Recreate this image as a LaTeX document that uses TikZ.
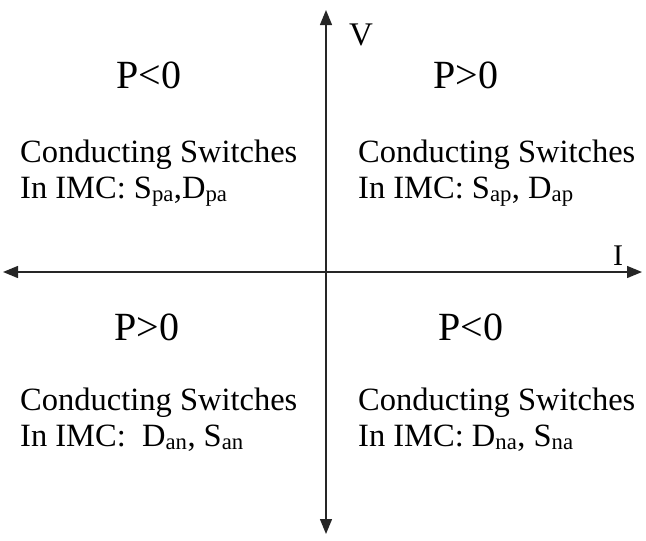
\documentclass[tikz,border=0pt]{standalone}
\usepackage{fontspec}
\setmainfont{Liberation Serif}
\usetikzlibrary{arrows.meta}
\tikzset{
  axis/.style={line width=1.3pt, draw=black!85,
    {Triangle[length=15pt,width=12pt]}-{Triangle[length=15pt,width=12pt]}},
  power/.style={inner sep=0pt, anchor=base, font=\fontsize{40}{44}\selectfont},
  axlabel/.style={inner sep=0pt, anchor=base west, font=\fontsize{33}{36}\selectfont},
  swtext/.style={inner sep=0pt, anchor=base west, font=\fontsize{32.5}{36}\selectfont}
}
\begin{document}
\begin{tikzpicture}[x=1pt,y=-1pt]
  \useasboundingbox (0,0) rectangle (646,541);
  % axes
  \coordinate (vtop) at (326,10);
  \coordinate (vbot) at (326,534);
  \coordinate (hleft) at (3,272);
  \coordinate (hright) at (642,272);
  \draw[axis] (vbot) -- (vtop);
  \draw[axis] (hleft) -- (hright);
  \node[axlabel] (vlab) at (349,45) {V};
  \node[axlabel, font=\fontsize{30}{32}\selectfont] (ilab) at (613,265) {I};
  % power sign of each quadrant
  \node[power] (p2) at (149,88) {P<0};
  \node[power] (p1) at (466,88) {P>0};
  \node[power] (p3) at (147,340) {P>0};
  \node[power] (p4) at (471,340) {P<0};
  % conducting switches
  \node[swtext] (s2a) at (20,162) {Conducting Switches};
  \node[swtext] (s2b) at (20,198) {In IMC: S\textsubscript{pa},D\textsubscript{pa}};
  \node[swtext] (s1a) at (358,162) {Conducting Switches};
  \node[swtext] (s1b) at (358,198) {In IMC: S\textsubscript{ap}, D\textsubscript{ap}};
  \node[swtext] (s3a) at (20,410) {Conducting Switches};
  \node[swtext] (s3b) at (20,446) {In IMC:\ \ D\textsubscript{an}, S\textsubscript{an}};
  \node[swtext] (s4a) at (358,410) {Conducting Switches};
  \node[swtext] (s4b) at (358,446) {In IMC: D\textsubscript{na}, S\textsubscript{na}};
\end{tikzpicture}
\end{document}
